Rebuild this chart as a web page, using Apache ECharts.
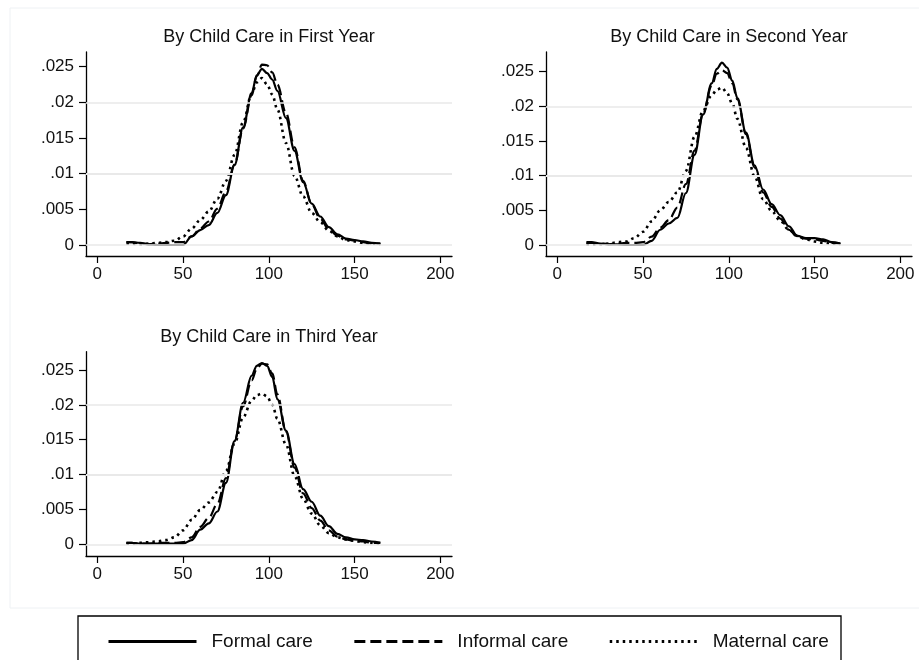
<!DOCTYPE html>
<html>
<head>
<meta charset="utf-8">
<script src="https://cdn.jsdelivr.net/npm/echarts@6/dist/echarts.min.js"></script>
<style>
html,body{margin:0;padding:0;background:#fff;}
#chart{width:919px;height:660px;}
</style>
</head>
<body>
<div id="chart"></div>
<script>
// ---- data ----
const panelTitles = ["By Child Care in First Year", "By Child Care in Second Year", "By Child Care in Third Year"];
const seriesNames = ["Formal care", "Informal care", "Maternal care"];
const xs = [17,20,25,30,35,40,45,50,55,60,65,70,75,80,85,90,93,96,99,102,105,110,115,120,125,130,135,140,145,150,155,160,165];

const formal1   = [0.0004,0.0004,0.0003,0.0001,0.0000,0.0000,0.0000,0.0000,0.0012,0.0021,0.0028,0.0045,0.0070,0.0112,0.0165,0.0213,0.0238,0.0247,0.0241,0.0232,0.0216,0.0178,0.0132,0.0088,0.0058,0.0040,0.0025,0.0015,0.0009,0.0007,0.0005,0.0003,0.0002];
const informal1 = [0.0004,0.0004,0.0002,0.0001,0.0002,0.0003,0.0004,0.0004,0.0012,0.0023,0.0033,0.0051,0.0075,0.0113,0.0163,0.0210,0.0237,0.0253,0.0252,0.0242,0.0225,0.0185,0.0137,0.0090,0.0057,0.0037,0.0022,0.0013,0.0008,0.0006,0.0004,0.0002,0.0002];
const maternal1 = [0.0002,0.0002,0.0001,0.0002,0.0003,0.0004,0.0006,0.0012,0.0023,0.0035,0.0047,0.0065,0.0090,0.0126,0.0172,0.0212,0.0228,0.0234,0.0225,0.0211,0.0190,0.0143,0.0097,0.0068,0.0045,0.0032,0.0020,0.0012,0.0007,0.0005,0.0003,0.0002,0.0001];

const formal2   = [0.0004,0.0004,0.0002,0.0001,0.0001,0.0000,0.0000,0.0000,0.0006,0.0022,0.0031,0.0039,0.0075,0.0130,0.0188,0.0233,0.0254,0.0263,0.0256,0.0237,0.0212,0.0162,0.0115,0.0080,0.0059,0.0043,0.0027,0.0013,0.0010,0.0010,0.0008,0.0004,0.0002];
const informal2 = [0.0003,0.0003,0.0002,0.0001,0.0002,0.0003,0.0003,0.0004,0.0012,0.0025,0.0036,0.0054,0.0088,0.0136,0.0190,0.0230,0.0247,0.0252,0.0248,0.0233,0.0210,0.0160,0.0112,0.0076,0.0055,0.0038,0.0022,0.0012,0.0009,0.0008,0.0006,0.0003,0.0002];
const maternal2 = [0.0001,0.0001,0.0001,0.0002,0.0004,0.0005,0.0010,0.0019,0.0034,0.0050,0.0062,0.0076,0.0107,0.0156,0.0194,0.0216,0.0224,0.0227,0.0219,0.0204,0.0182,0.0140,0.0099,0.0066,0.0049,0.0035,0.0022,0.0013,0.0008,0.0005,0.0003,0.0002,0.0001];

const formal3   = [0.0002,0.0002,0.0001,0.0001,0.0001,0.0001,0.0001,0.0001,0.0006,0.0021,0.0030,0.0047,0.0088,0.0148,0.0203,0.0242,0.0256,0.0260,0.0256,0.0240,0.0208,0.0163,0.0115,0.0079,0.0061,0.0041,0.0026,0.0015,0.0010,0.0007,0.0006,0.0004,0.0002];
const informal3 = [0.0002,0.0002,0.0001,0.0001,0.0002,0.0002,0.0002,0.0003,0.0010,0.0025,0.0038,0.0058,0.0095,0.0148,0.0198,0.0235,0.0252,0.0259,0.0258,0.0245,0.0215,0.0162,0.0110,0.0073,0.0052,0.0034,0.0020,0.0011,0.0007,0.0005,0.0004,0.0002,0.0002];
const maternal3 = [0.0001,0.0001,0.0002,0.0003,0.0004,0.0006,0.0010,0.0020,0.0035,0.0049,0.0060,0.0075,0.0105,0.0144,0.0182,0.0206,0.0214,0.0216,0.0212,0.0200,0.0180,0.0143,0.0098,0.0065,0.0044,0.0027,0.0016,0.0010,0.0007,0.0005,0.0003,0.0002,0.0001];

const xTickValues = [0, 50, 100, 150, 200];
const xTickLabels = ["0", "50", "100", "150", "200"];
const yTickValues = [0, 0.005, 0.01, 0.015, 0.02, 0.025];
const yTickLabels = ["0", ".005", ".01", ".015", ".02", ".025"];

// ---- layout ----
const panelData = [
  [formal1, informal1, maternal1],
  [formal2, informal2, maternal2],
  [formal3, informal3, maternal3]
];
const grids = [
  {left: 86,  top: 52,    width: 366, height: 204,   xMin: -6.59, xMax: 206.8, yMin: -0.00154, yMax: 0.02706},
  {left: 546, top: 52,    width: 366, height: 204,   xMin: -6.59, xMax: 206.8, yMin: -0.00159, yMax: 0.02784},
  {left: 86,  top: 351.7, width: 366, height: 204.3, xMin: -6.59, xMax: 206.8, yMin: -0.00168, yMax: 0.02762}
];
const lineTypes = ['solid', [11, 5], [2.5, 4]];
const lineWidths = [2.2, 2.2, 2.6];
const FONT = 'Liberation Sans, Arial, Helvetica, sans-serif';

const option = {
  backgroundColor: '#fff',
  animation: false,
  title: grids.map((g, i) => ({
    text: panelTitles[i],
    left: g.left + g.width / 2,
    top: g.top - 24,
    textAlign: 'center',
    padding: 0,
    textStyle: {fontFamily: FONT, fontSize: 18, fontWeight: 'normal', color: '#111'}
  })),
  grid: grids.map(g => ({left: g.left, top: g.top, width: g.width, height: g.height, containLabel: false})),
  xAxis: grids.map((g, i) => ({
    type: 'value', gridIndex: i, min: g.xMin, max: g.xMax,
    axisLine: {show: true, onZero: false, lineStyle: {color: '#000', width: 1.3}},
    axisTick: {show: true, length: 7, customValues: xTickValues, lineStyle: {color: '#000', width: 1.2}},
    axisLabel: {customValues: xTickValues, margin: 10, fontFamily: FONT, fontSize: 17, color: '#111',
      formatter: v => { const k = xTickValues.indexOf(v); return k >= 0 ? xTickLabels[k] : ''; }},
    splitLine: {show: false}
  })),
  yAxis: grids.map((g, i) => ({
    type: 'value', gridIndex: i, min: g.yMin, max: g.yMax,
    axisLine: {show: true, onZero: false, lineStyle: {color: '#000', width: 1.3}},
    axisTick: {show: true, length: 7, customValues: yTickValues, lineStyle: {color: '#000', width: 1.2}},
    axisLabel: {customValues: yTickValues, margin: 12, fontFamily: FONT, fontSize: 17, color: '#111',
      formatter: v => { const k = yTickValues.findIndex(t => Math.abs(t - v) < 1e-9); return k >= 0 ? yTickLabels[k] : ''; }},
    splitLine: {show: false}
  })),
  legend: {
    data: seriesNames,
    top: 627,
    left: 102,
    itemWidth: 88,
    itemHeight: 14,
    itemGap: 40,
    itemStyle: {opacity: 0, borderWidth: 0},
    lineStyle: {width: 3},
    textStyle: {fontFamily: FONT, fontSize: 19, color: '#111', padding: [0, 0, 0, 10]}
  },
  graphic: [
    {type: 'rect', shape: {x: 10, y: 8, width: 930, height: 600}, style: {fill: 'none', stroke: '#eef1f4', lineWidth: 1}, z: -10},
    {type: 'rect', shape: {x: 78, y: 616, width: 763, height: 100}, style: {fill: 'none', stroke: '#000', lineWidth: 1.3}, z: 10}
  ],
  series: []
};

panelData.forEach((arrs, p) => {
  // grid lines
  option.series.push({
    type: 'line', xAxisIndex: p, yAxisIndex: p, data: [], silent: true,
    markLine: {symbol: 'none', silent: true, label: {show: false},
      lineStyle: {color: '#e8e8e8', width: 1.5, type: 'solid'},
      data: yTickValues.map(v => ({yAxis: v}))},
    z: 1
  });
  arrs.forEach((vals, s) => {
    option.series.push({
      name: seriesNames[s], type: 'line', xAxisIndex: p, yAxisIndex: p,
      data: xs.map((x, k) => [x, vals[k]]),
      showSymbol: false, symbol: 'none', smooth: 0.35, smoothMonotone: 'x',
      lineStyle: {color: '#000', width: lineWidths[s], type: lineTypes[s]},
      itemStyle: {color: '#000'},
      z: 3
    });
  });
});

const chart = echarts.init(document.getElementById('chart'), null, {renderer: 'canvas'});
chart.setOption(option);
</script>
</body>
</html>
